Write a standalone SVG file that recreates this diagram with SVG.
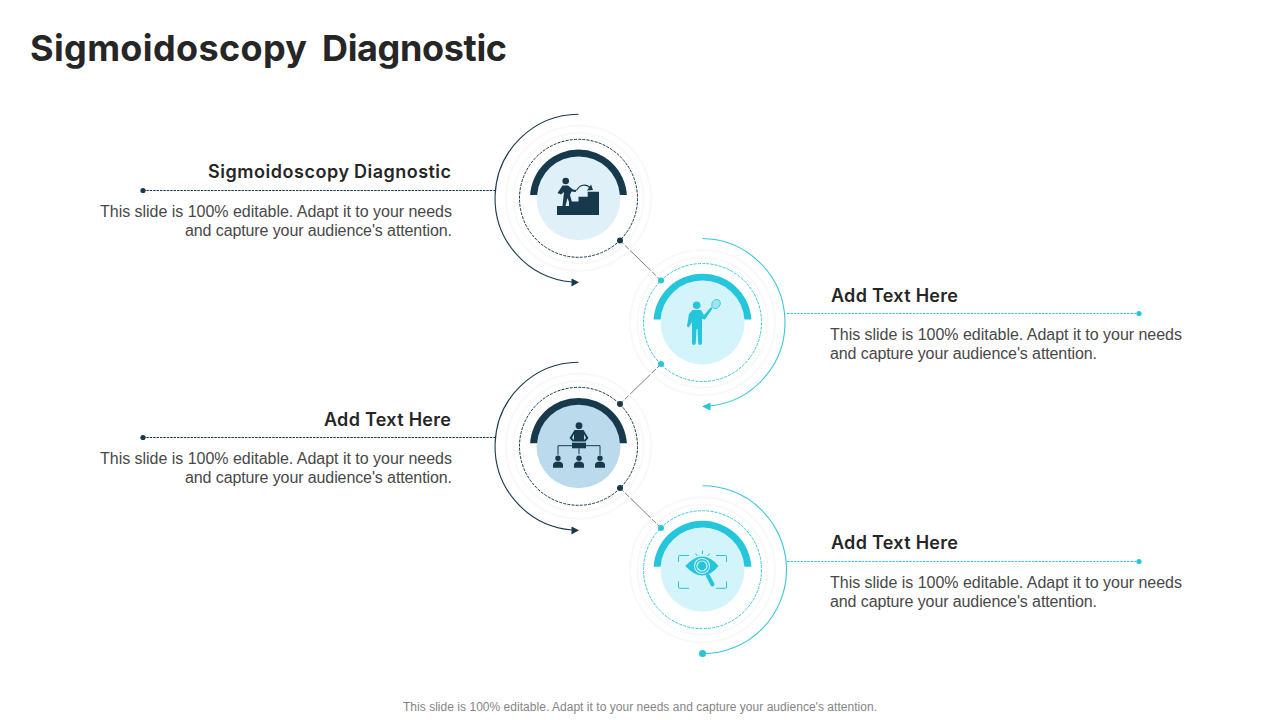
<svg xmlns="http://www.w3.org/2000/svg" width="1280" height="720" viewBox="0 0 1280 720">
<style>
.bg{fill:#fff}
.title{font:700 36px "Inter",sans-serif;fill:#262626}
.head{font:600 18px "Inter",sans-serif;fill:#262626}
.body{font:16px "Liberation Sans",Arial,sans-serif;fill:#484848}
.foot{font:12px "Liberation Sans",Arial,sans-serif;fill:#858585}
.ring{fill:none;stroke:#faf9f9;stroke-width:2}
.d{fill:none;stroke-width:1;stroke-dasharray:2.4 1}
.dc{fill:none;stroke-width:1;stroke-dasharray:3 1.2}
.arc{fill:none;stroke-width:1.1}
.dkl{stroke:#17394c}
.cyl{stroke:#38c8de}
.con{stroke:#7d7d7d;stroke-width:1;fill:none}
</style>
<rect class="bg" width="1280" height="720"/>
<text class="title" y="60.500"><tspan x="30" textLength="277" lengthAdjust="spacing">Sigmoidoscopy</tspan> <tspan x="322" textLength="185" lengthAdjust="spacing">Diagnostic</tspan></text>
<g id="connectors">
<line class="con" x1="620" y1="240.500" x2="661" y2="280.500"/>
<line class="con" x1="661" y1="364" x2="620" y2="404"/>
<line class="con" x1="620" y1="488" x2="661" y2="528"/>
<line class="d dkl" x1="143" y1="190.500" x2="495" y2="190.500"/>
<line class="d cyl" x1="787" y1="313.500" x2="1139" y2="313.500"/>
<line class="d dkl" x1="143" y1="437.500" x2="495" y2="437.500"/>
<line class="d cyl" x1="787" y1="561.500" x2="1139" y2="561.500"/>
<circle cx="143" cy="190.500" r="2.600" fill="#17394c"/>
<circle cx="1139" cy="313.500" r="2.600" fill="#25c5dc"/>
<circle cx="143" cy="437.500" r="2.600" fill="#17394c"/>
<circle cx="1139" cy="561.500" r="2.600" fill="#25c5dc"/>
</g>
<g id="node-1">
<circle class="ring" cx="578.500" cy="198.300" r="72.500"/><circle class="ring" cx="578.500" cy="198.300" r="65"/>
<circle cx="578.500" cy="198.300" r="42" fill="#dff0f8"/>
<circle class="dc dkl" cx="578.500" cy="198.300" r="59"/>
<path class="arc dkl" d="M578.500 114.300A84 84 0 0 0 572 282"/>
<path d="M579 282.300L571.500 278.500V286.500Z" fill="#17394c"/>
<path d="M530.100 195A48.500 48.500 0 0 1 626.900 195H619.900A41.500 41.500 0 0 0 537.100 195Z" fill="#17394c"/>
<circle cx="620" cy="240.500" r="3" fill="#17394c"/>
<g fill="#17394c">
<path d="M557 215V206H569V201.500H578.500V196.700H587.700V191.700H599V215Z"/>
<circle cx="565.700" cy="181" r="3.300"/>
<path d="M562.500 185.500H568L573 189.500L576 190V192L571.500 191.500L570 195L573 206H570.500L567.500 198L565.500 206H562.500L564 192L561 194.500L557.500 193Z"/>
<path d="M576.500 190.500C580 184 586 184 590 187.500" fill="none" stroke="#17394c" stroke-width="1.200"/>
<path d="M593 190L587 190.500L591 184.500Z"/>
</g>
<text class="head" y="177.500"><tspan x="208" textLength="141" lengthAdjust="spacing">Sigmoidoscopy</tspan> <tspan x="354" textLength="97" lengthAdjust="spacing">Diagnostic</tspan></text>
<text class="body" x="100" y="217" textLength="352" lengthAdjust="spacing">This slide is 100% editable. Adapt it to your needs</text>
<text class="body" x="185" y="236" textLength="267" lengthAdjust="spacing">and capture your audience's attention.</text>
</g>
<g id="node-2">
<circle class="ring" cx="702.500" cy="322.500" r="72.500"/><circle class="ring" cx="702.500" cy="322.500" r="65"/>
<circle cx="702.500" cy="322.500" r="42" fill="#d3f4fa"/>
<circle class="dc cyl" cx="702.500" cy="322.500" r="59"/>
<path class="arc cyl" d="M702.500 238.500A84 84 0 0 1 710 406"/>
<path d="M702 406.500L710.500 402.500V410.500Z" fill="#25c5dc"/>
<path d="M653.600 319.500A49 49 0 0 1 751.400 319.500H744.400A42 42 0 0 0 660.600 319.500Z" fill="#25c5dc"/>
<circle cx="661" cy="280.500" r="3" fill="#25c5dc"/><circle cx="661" cy="364" r="3" fill="#25c5dc"/>
<g fill="#25c5dc">
<circle cx="696.700" cy="305.300" r="3.800"/>
<path d="M692.500 310H701L704 315L711 307L712.500 308.500L705 319.500L702 319V343Q702 345 700 345Q698.500 345 698.200 343L697.500 329H696.500L695.800 343Q695.500 345 693.800 345Q692 345 692 343V322L689 327Q687.500 328 687 326L689 314Z"/>
<ellipse cx="716" cy="304" rx="4" ry="4.800" transform="rotate(35 716 304)" fill="#9fe3ef" stroke="#25c5dc" stroke-width=".8"/>
</g>
<text class="head" x="831" y="301.500" textLength="127" lengthAdjust="spacing">Add Text Here</text>
<text class="body" x="830" y="340" textLength="352" lengthAdjust="spacing">This slide is 100% editable. Adapt it to your needs</text>
<text class="body" x="830" y="359" textLength="267" lengthAdjust="spacing">and capture your audience's attention.</text>
</g>
<g id="node-3">
<circle class="ring" cx="578.500" cy="446.300" r="72.500"/><circle class="ring" cx="578.500" cy="446.300" r="65"/>
<circle cx="578.500" cy="446.300" r="42" fill="#bbdbed"/>
<circle class="dc dkl" cx="578.500" cy="446.300" r="59"/>
<path class="arc dkl" d="M578.500 362.300A84 84 0 0 0 572 530"/>
<path d="M579 530.300L571.500 526.500V534.500Z" fill="#17394c"/>
<path d="M530.100 443.300A48.500 48.500 0 0 1 626.900 443.300H619.900A41.500 41.500 0 0 0 537.100 443.300Z" fill="#17394c"/>
<circle cx="620" cy="404" r="3" fill="#17394c"/><circle cx="620" cy="488" r="3" fill="#17394c"/>
<g fill="#17394c">
<circle cx="579" cy="425.700" r="3.400"/>
<path fill-rule="evenodd" d="M574.500 430H583.500L588.500 438L585.500 441.500H572.500L569.500 438ZM574 434L572 438L574 440ZM584 434V440L586 438Z"/>
<rect x="572" y="442.700" width="14" height="5.600"/>
<path d="M572 445.700H558V454.700M586 445.700H600V454.700M579 448.300V454" fill="none" stroke="#17394c" stroke-width="1"/>
<circle cx="558" cy="458.300" r="2.700"/><circle cx="579" cy="458.300" r="2.700"/><circle cx="600" cy="458.300" r="2.700"/>
<path d="M553 467.700V465Q553 461.500 558 461.500Q563 461.500 563 465V467.700Z"/>
<path d="M574 467.700V465Q574 461.500 579 461.500Q584 461.500 584 465V467.700Z"/>
<path d="M595 467.700V465Q595 461.500 600 461.500Q605 461.500 605 465V467.700Z"/>
</g>
<text class="head" x="324" y="425.500" textLength="127" lengthAdjust="spacing">Add Text Here</text>
<text class="body" x="100" y="464" textLength="352" lengthAdjust="spacing">This slide is 100% editable. Adapt it to your needs</text>
<text class="body" x="185" y="483" textLength="267" lengthAdjust="spacing">and capture your audience's attention.</text>
</g>
<g id="node-4">
<circle class="ring" cx="702.500" cy="569.700" r="72.500"/><circle class="ring" cx="702.500" cy="569.700" r="65"/>
<circle cx="702.500" cy="569.700" r="42" fill="#d3f4fa"/>
<circle class="dc cyl" cx="702.500" cy="569.700" r="59"/>
<path class="arc cyl" d="M702.500 485.700A84 84 0 0 1 702.500 653.700"/>
<circle cx="702.500" cy="653.500" r="3.500" fill="#25c5dc"/>
<path d="M653.600 566.700A49 49 0 0 1 751.400 566.700H744.400A42 42 0 0 0 660.600 566.700Z" fill="#25c5dc"/>
<circle cx="661" cy="528" r="3" fill="#25c5dc"/>
<g fill="#25c5dc">
<path d="M678.500 562V556.500Q678.500 555.500 680 555.500H689M716 555.500H725Q726.500 555.500 726.500 556.500V562M678.500 581.500V587Q678.500 588.300 680 588.300H689M716 588.300H725Q726.500 588.300 726.500 587V581.500M695.500 553.500L697.500 556M702.500 550.500V554M709.500 553.500L707.500 556" fill="none" stroke="#25c5dc" stroke-width="1"/>
<path d="M685.300 566Q694 556.500 702 556.500Q711 556.500 718.500 566Q711 575.500 702 575.500Q694 575.500 685.300 566Z"/>
<circle cx="702" cy="566" r="8" fill="#d3f4fa"/>
<circle cx="702" cy="566" r="7"/>
<circle cx="702" cy="566" r="5.600" fill="#d3f4fa"/>
<circle cx="702" cy="566" r="4.400"/>
<path d="M708 576L712.500 584.500" fill="none" stroke="#25c5dc" stroke-width="4" stroke-linecap="round"/>
</g>
<text class="head" x="831" y="548.500" textLength="127" lengthAdjust="spacing">Add Text Here</text>
<text class="body" x="830" y="588" textLength="352" lengthAdjust="spacing">This slide is 100% editable. Adapt it to your needs</text>
<text class="body" x="830" y="607" textLength="267" lengthAdjust="spacing">and capture your audience's attention.</text>
</g>
<text class="foot" x="403" y="711" textLength="474" lengthAdjust="spacing">This slide is 100% editable. Adapt it to your needs and capture your audience's attention.</text>
</svg>
